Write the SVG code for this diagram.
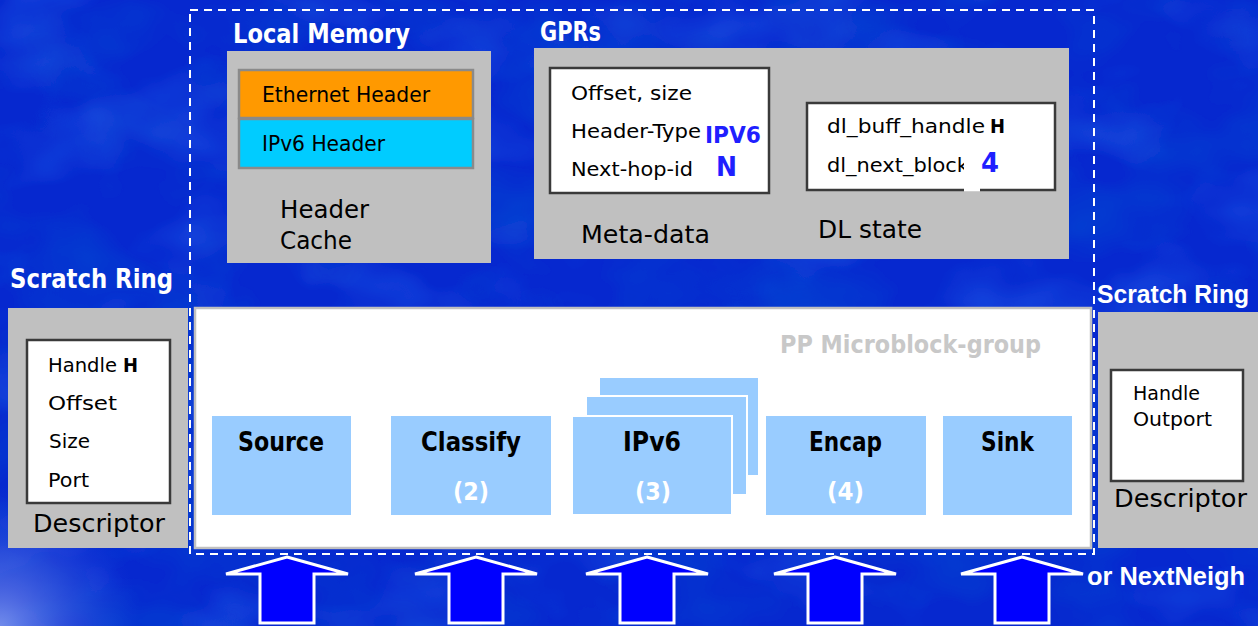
<svg xmlns="http://www.w3.org/2000/svg" width="1258" height="626" viewBox="0 0 1258 626">
<defs>
<style>
text{font-family:"DejaVu Sans","Liberation Sans",sans-serif;}
.hw{fill:#fff;font-weight:bold;font-size:26px;}
.hn{fill:#fff;font-weight:bold;font-size:25px;font-family:"Liberation Sans","DejaVu Sans",sans-serif;}
.t{fill:#000;font-size:20px;}
.tb{fill:#000;font-size:20px;font-weight:bold;}
.tl{fill:#000;font-size:25px;}
.blk{fill:#000;font-weight:bold;font-size:26px;}
.num{fill:#fff;font-weight:bold;font-size:25px;}
.bl{fill:#1f1fff;font-weight:bold;}
.gray{fill:#c0c0c0;}
.wbox{fill:#fff;stroke:#3a3a3a;stroke-width:2.5;}
.mb{fill:#99ccff;}
.mbs{fill:#99ccff;stroke:#fff;stroke-width:2;}
.arr{fill:#0000ff;stroke:#fff;stroke-width:3;stroke-linejoin:miter;}
</style>
<filter id="clouds" x="0" y="0" width="100%" height="100%">
<feTurbulence type="fractalNoise" baseFrequency="0.008 0.012" numOctaves="3" seed="11" result="n"/>
<feColorMatrix in="n" type="matrix" values="0 0 0 0 0.03  0 0 0 0 0.2  0 0 0 0 0.95  0.8 0 0 0 -0.4" result="light"/>
<feColorMatrix in="n" type="matrix" values="0 0 0 0 0  0 0 0 0 0.09  0 0 0 0 0.65  0 1.1 0 0 -0.5" result="dark"/>
<feMerge><feMergeNode in="light"/><feMergeNode in="dark"/></feMerge>
</filter>
<radialGradient id="glow" cx="0" cy="626" r="140" gradientUnits="userSpaceOnUse">
<stop offset="0" stop-color="#8aa0f0" stop-opacity="0.8"/>
<stop offset="1" stop-color="#3050e0" stop-opacity="0"/>
</radialGradient>
<path id="arrow" d="M0,0 L61,17 L27,17 L27,66 L-27,66 L-27,17 L-61,17 Z"/>
</defs>

<g id="background">
<rect x="0" y="0" width="1258" height="626" fill="#0628cf"/>
<rect x="0" y="0" width="1258" height="626" filter="url(#clouds)"/>
<rect x="0" y="470" width="160" height="156" fill="url(#glow)"/>
</g>

<g id="local-memory">
<text class="hw" x="233" y="43" textLength="177" lengthAdjust="spacingAndGlyphs">Local Memory</text>
<rect class="gray" x="227" y="51" width="264" height="212"/>
<rect x="239" y="70" width="234" height="48" fill="#ff9900" stroke="#8a8a8a" stroke-width="2.5"/>
<rect x="239" y="119" width="234" height="49" fill="#00ccff" stroke="#8a8a8a" stroke-width="2.5"/>
<text class="t" style="font-size:21px" x="262" y="102" textLength="168" lengthAdjust="spacingAndGlyphs">Ethernet Header</text>
<text class="t" style="font-size:21px" x="262" y="151" textLength="123" lengthAdjust="spacingAndGlyphs">IPv6 Header</text>
<text class="tl" x="280" y="218" textLength="89" lengthAdjust="spacingAndGlyphs">Header</text>
<text class="tl" x="280" y="249" textLength="72" lengthAdjust="spacingAndGlyphs">Cache</text>
</g>

<g id="gprs">
<text class="hw" x="540" y="41" textLength="61" lengthAdjust="spacingAndGlyphs">GPRs</text>
<rect class="gray" x="534" y="48" width="535" height="211"/>
<g id="meta-data">
<rect class="wbox" x="550" y="68" width="219" height="125"/>
<text class="t" x="571" y="100" textLength="121" lengthAdjust="spacingAndGlyphs">Offset, size</text>
<text class="t" x="571" y="138" textLength="130" lengthAdjust="spacingAndGlyphs">Header-Type</text>
<text class="bl" style="font-size:23px" x="705" y="143" textLength="56" lengthAdjust="spacingAndGlyphs">IPV6</text>
<text class="t" x="571" y="176" textLength="122" lengthAdjust="spacingAndGlyphs">Next-hop-id</text>
<text class="bl" style="font-size:26px" x="716" y="176" textLength="21" lengthAdjust="spacingAndGlyphs">N</text>
<text class="tl" x="581" y="243" textLength="129" lengthAdjust="spacingAndGlyphs">Meta-data</text>
</g>
<g id="dl-state">
<rect class="wbox" x="807" y="103" width="248" height="87"/>
<text class="t" x="827" y="133" textLength="158" lengthAdjust="spacingAndGlyphs">dl_buff_handle</text>
<text class="tb" x="990" y="133" textLength="15" lengthAdjust="spacingAndGlyphs">H</text>
<text class="t" x="827" y="172" textLength="142" lengthAdjust="spacingAndGlyphs">dl_next_block</text>
<rect x="964" y="150" width="16" height="41.5" fill="#fff"/>
<text class="bl" style="font-size:27px" x="981" y="172" textLength="18" lengthAdjust="spacingAndGlyphs">4</text>
<text class="tl" x="818" y="238" textLength="104" lengthAdjust="spacingAndGlyphs">DL state</text>
</g>
</g>

<g id="scratch-ring-in">
<text class="hw" x="10" y="288" textLength="163" lengthAdjust="spacingAndGlyphs">Scratch Ring</text>
<rect class="gray" x="8" y="308" width="180" height="240"/>
<rect class="wbox" x="27" y="340" width="143" height="163"/>
<text class="t" x="48" y="372" textLength="69" lengthAdjust="spacingAndGlyphs">Handle</text>
<text class="tb" x="123" y="372" textLength="15" lengthAdjust="spacingAndGlyphs">H</text>
<text class="t" x="48" y="410" textLength="69" lengthAdjust="spacingAndGlyphs">Offset</text>
<text class="t" x="49" y="448" textLength="41" lengthAdjust="spacingAndGlyphs">Size</text>
<text class="t" x="48" y="487" textLength="41" lengthAdjust="spacingAndGlyphs">Port</text>
<text class="t" style="font-size:24px" x="33" y="532" textLength="132" lengthAdjust="spacingAndGlyphs">Descriptor</text>
</g>

<g id="scratch-ring-out">
<text class="hn" x="1097" y="303" textLength="152" lengthAdjust="spacingAndGlyphs">Scratch Ring</text>
<rect class="gray" x="1098" y="312" width="160" height="236"/>
<rect class="wbox" x="1111" y="370" width="132" height="111"/>
<text class="t" x="1133" y="400" textLength="67" lengthAdjust="spacingAndGlyphs">Handle</text>
<text class="t" x="1133" y="426" textLength="79" lengthAdjust="spacingAndGlyphs">Outport</text>
<text class="t" style="font-size:24px" x="1114" y="507" textLength="133" lengthAdjust="spacingAndGlyphs">Descriptor</text>
</g>

<g id="pp-microblock-group">
<rect x="195" y="308" width="896" height="240" fill="#fff" stroke="#c0c0c0" stroke-width="2.5"/>
<text x="780" y="353" style="fill:#c8c8c8;font-weight:bold;font-size:25px" textLength="261" lengthAdjust="spacingAndGlyphs">PP Microblock-group</text>
</g>

<g id="source">
<rect class="mb" x="212" y="416" width="139" height="99"/>
<text class="blk" x="238" y="451" textLength="86" lengthAdjust="spacingAndGlyphs">Source</text>
</g>
<g id="classify">
<rect class="mb" x="391" y="416" width="160" height="99"/>
<text class="blk" x="421" y="451" textLength="100" lengthAdjust="spacingAndGlyphs">Classify</text>
<text class="num" x="453" y="500" textLength="36" lengthAdjust="spacingAndGlyphs">(2)</text>
</g>
<g id="ipv6">
<rect class="mbs" x="599" y="377" width="160" height="99"/>
<rect class="mbs" x="586" y="396" width="161" height="99"/>
<rect class="mbs" x="572" y="416" width="160" height="99"/>
<text class="blk" x="623" y="451" textLength="58" lengthAdjust="spacingAndGlyphs">IPv6</text>
<text class="num" x="635" y="500" textLength="36" lengthAdjust="spacingAndGlyphs">(3)</text>
</g>
<g id="encap">
<rect class="mb" x="766" y="416" width="160" height="99"/>
<text class="blk" x="809" y="451" textLength="73" lengthAdjust="spacingAndGlyphs">Encap</text>
<text class="num" x="827" y="500" textLength="37" lengthAdjust="spacingAndGlyphs">(4)</text>
</g>
<g id="sink">
<rect class="mb" x="943" y="416" width="129" height="99"/>
<text class="blk" x="981" y="451" textLength="53" lengthAdjust="spacingAndGlyphs">Sink</text>
</g>

<g id="me-boundary">
<rect x="190" y="10" width="904" height="544" fill="none" stroke="#fff" stroke-width="2" stroke-dasharray="8 6"/>
</g>

<g id="connectors">
<use href="#arrow" class="arr" x="287" y="557"/>
<use href="#arrow" class="arr" x="476" y="557"/>
<use href="#arrow" class="arr" x="647" y="557"/>
<use href="#arrow" class="arr" x="835" y="557"/>
<use href="#arrow" class="arr" x="1022" y="557"/>
</g>
<text class="hn" x="1087" y="585" textLength="158" lengthAdjust="spacingAndGlyphs">or NextNeigh</text>
</svg>
